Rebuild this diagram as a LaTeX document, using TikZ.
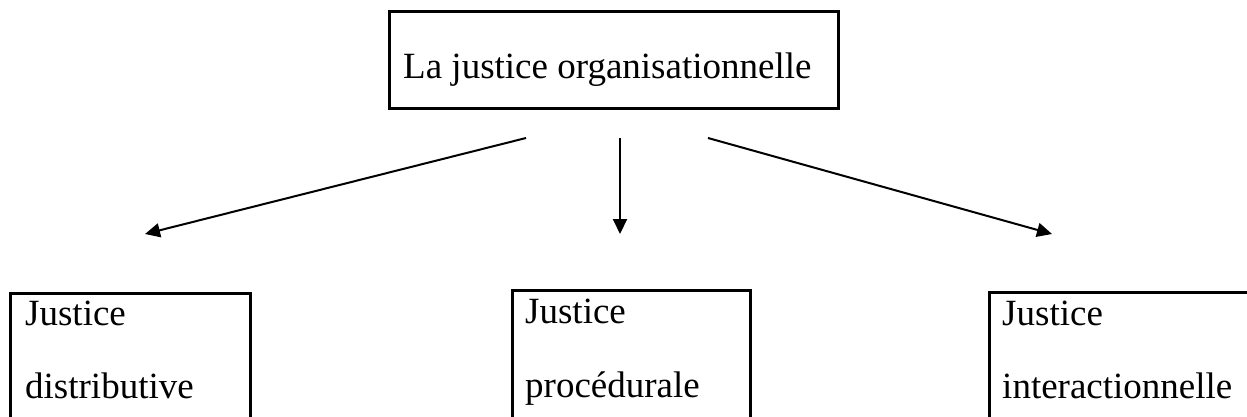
\documentclass[tikz,border=0pt]{standalone}
\usepackage{fontspec}
\setmainfont{Liberation Serif}
\usetikzlibrary{arrows.meta}
\begin{document}
\begin{tikzpicture}[x=1pt,y=-1pt,
  boxstyle/.style={draw,line width=3pt,inner sep=0pt,anchor=north west},
  txt/.style={inner sep=0pt,anchor=base west,font=\fontsize{37}{44}\selectfont},
  arr/.style={line width=2pt,-{Triangle[length=15pt,width=14pt]}}]
\useasboundingbox (0,0) rectangle (1247,416);
\clip (0,0) rectangle (1247,416);
\node[boxstyle,minimum width=449pt,minimum height=97pt] (top) at (388,10) {};
\node[txt] (toptxt) at (403,78) {La justice organisationnelle};
\node[boxstyle,minimum width=240pt,minimum height=160pt] (b1) at (9,292) {};
\node[boxstyle,minimum width=238pt,minimum height=160pt] (b2) at (511,289) {};
\node[boxstyle,minimum width=290pt,minimum height=160pt] (b3) at (988,291) {};
\node[txt] (t1a) at (25,325) {Justice};
\node[txt] (t1b) at (25,398) {distributive};
\node[txt] (t2a) at (525,323) {Justice};
\node[txt] (t2b) at (525,397) {procédurale};
\node[txt] (t3a) at (1002,325) {Justice};
\node[txt] (t3b) at (1002,398) {interactionnelle};
\coordinate (s1) at (526,138);
\coordinate (e1) at (145,234);
\coordinate (s2) at (620,138);
\coordinate (e2) at (620,234);
\coordinate (s3) at (708,138);
\coordinate (e3) at (1052,234);
\draw[arr] (s1) -- (e1);
\draw[arr] (s2) -- (e2);
\draw[arr] (s3) -- (e3);
\end{tikzpicture}
\end{document}
